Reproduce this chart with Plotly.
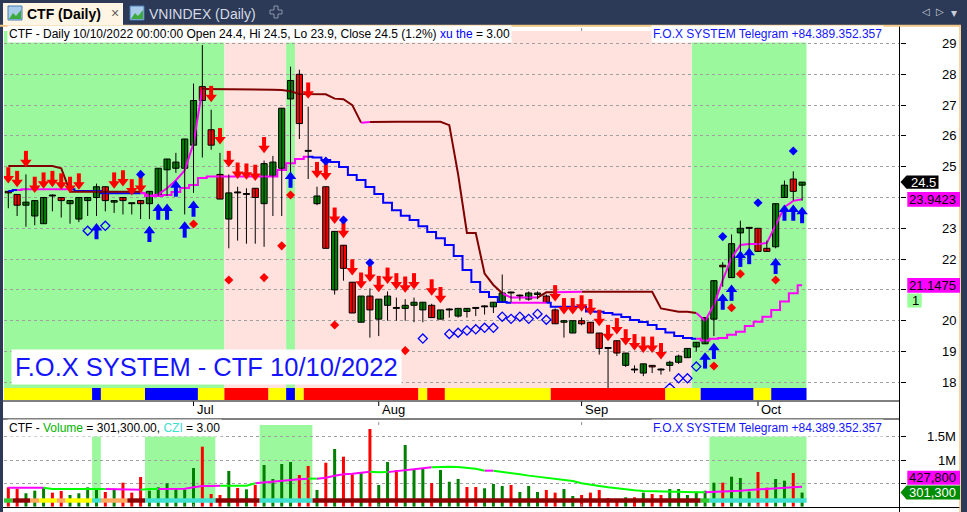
import plotly.graph_objects as go
import pandas as pd

W, H = 967, 512
PL, PR = 4, 900


def xp(px):
    return (px - PL) / (PR - PL)


def yp(py):
    return 1 - py / H


# ---------------- data ----------------
dates = [d.strftime("%Y-%m-%d") for d in pd.bdate_range("2022-06-02", "2022-10-10")
         if d.strftime("%Y-%m-%d") not in ("2022-09-01", "2022-09-02")]

month_dates = ["2022-07-01", "2022-08-01", "2022-09-05", "2022-10-03"]
month_labels = ["Jul", "Aug", "Sep", "Oct"]

opens = [24.2, 24.1, 23.75, 23.4, 23.15, 24.05, 24.0, 23.8, 23.3, 23.9,
         24.0, 24.35, 23.85, 24.0, 23.8, 23.9, 23.8, 24.05, 24.9, 24.95,
         24.95, 25.7, 27.6, 26.2, 24.75, 23.3, 24.15, 24.1, 24.3, 23.8,
         24.7, 24.95, 27.2, 28.0, 25.5, 23.8, 24.35, 21.0, 22.45, 21.25,
         19.95, 20.8, 20.05, 20.5, 20.4, 20.4, 20.5, 20.35, 20.5, 20.05,
         20.35, 20.15, 20.3, 20.4, 20.45, 20.45, 20.6, 20.9, 20.8, 20.7,
         20.85, 20.8, 20.35, 19.95, 19.6, 20.0, 19.95, 19.6, 19.1, 19.35,
         18.55, 18.4, 18.3, 18.55, 18.4, 18.55, 18.65, 18.8, 19.15, 19.25,
         20.05, 21.8, 21.4, 22.85, 23.0, 23.0, 22.35, 22.4, 24.0, 24.6,
         24.4]
highs = [24.2, 24.1, 24.75, 23.9, 24.0, 24.1, 24.0, 23.9, 24.0, 24.0,
         24.45, 24.35, 23.9, 24.0, 23.8, 23.9, 24.2, 24.95, 25.25, 25.45,
         25.9, 27.7, 28.95, 26.85, 25.45, 24.75, 24.35, 24.3, 24.3, 25.2,
         25.35, 26.9, 28.25, 28.15, 26.95, 24.35, 24.35, 22.9, 22.45, 21.25,
         20.8, 21.05, 20.7, 20.95, 20.75, 20.7, 20.75, 20.6, 20.55, 20.35,
         20.4, 20.4, 20.4, 20.4, 20.5, 20.6, 21.5, 20.95, 20.85, 20.95,
         20.95, 20.85, 20.4, 20.0, 20.0, 20.1, 19.95, 19.6, 19.1, 19.35,
         18.95, 18.55, 18.6, 18.55, 18.45, 18.7, 18.9, 19.1, 19.3, 20.1,
         21.3, 21.9, 22.8, 23.25, 23.0, 23.0, 22.6, 23.8, 24.55, 24.85,
         24.5]
lows = [23.65, 23.4, 23.05, 23.1, 23.15, 23.55, 23.35, 23.15, 23.2, 23.4,
        23.4, 23.55, 23.5, 23.45, 23.45, 23.3, 23.3, 24.05, 24.05, 24.8,
        23.45, 24.15, 25.3, 25.55, 23.95, 22.35, 22.6, 22.5, 22.5, 22.4,
        23.4, 23.4, 24.8, 25.9, 24.6, 23.75, 22.35, 20.85, 21.3, 20.25,
        19.95, 19.45, 19.5, 20.0, 20.0, 20.0, 19.95, 19.95, 20.1, 20.05,
        20.1, 20.1, 20.1, 20.15, 20.2, 20.25, 20.6, 20.6, 20.65, 20.65,
        20.7, 20.6, 19.9, 19.45, 19.6, 19.85, 19.6, 18.9, 17.8, 18.85,
        18.5, 18.3, 18.2, 18.3, 18.25, 18.35, 18.6, 18.8, 19.0, 19.25,
        19.5, 21.1, 21.4, 22.2, 22.2, 22.25, 22.25, 22.35, 24.0, 23.9,
        23.9]
closes = [24.15, 23.75, 23.85, 23.9, 24.0, 24.05, 23.9, 23.9, 24.0, 24.0,
          24.35, 23.9, 23.9, 23.9, 23.8, 23.8, 24.2, 24.95, 25.25, 25.15,
          25.9, 27.15, 27.15, 25.7, 23.95, 24.15, 24.15, 24.1, 24.0, 25.1,
          25.15, 26.9, 27.8, 26.4, 25.5, 24.05, 22.35, 22.9, 21.7, 20.25,
          20.8, 20.35, 20.7, 20.8, 20.4, 20.5, 20.6, 20.6, 20.1, 20.35,
          20.35, 20.4, 20.4, 20.4, 20.45, 20.6, 20.9, 20.9, 20.8, 20.9,
          20.9, 20.6, 19.9, 20.0, 20.0, 19.9, 19.6, 19.1, 19.1, 18.95,
          18.95, 18.4, 18.6, 18.5, 18.4, 18.65, 18.85, 19.1, 19.3, 20.1,
          21.3, 21.75, 22.5, 23.0, 23.0, 22.25, 22.25, 23.8, 24.4, 24.2,
          24.5]

# trailing line A (brown / magenta) and line B (blue / magenta)
line_a = [25.02, 25.02, 25.02, 25.02, 25.02, 25.02, 24.95,
          24.19, 24.19, 24.19, 24.19, 24.19, 24.19, 24.19, 24.19, 24.19,
          24.05, 24.1, 24.3, 24.56, 24.88, 25.76,
          27.52, 27.52, 27.52, 27.52, 27.52, 27.52, 27.52, 27.52,
          27.5, 27.49, 27.45, 27.36, 27.35, 27.35, 27.35,
          27.21, 27.19, 27.0, 26.43, 26.45,
          26.46, 26.46, 26.46, 26.46, 26.46, 26.46, 26.46, 26.46,
          26.35, 24.75, 22.85, 22.85, 21.53, 21.16, 20.89,
          20.75, 20.75, 20.75, 20.75,
          20.92, 20.92, 20.92, 20.92,
          20.94, 20.94, 20.94, 20.94, 20.94, 20.94, 20.94, 20.94, 20.94,
          20.4, 20.35, 20.29, 20.29, 20.25,
          20.0, 20.51, 21.32, 22.04, 22.46, 22.49, 22.49, 22.52, 23.11, 23.69, 23.89, 23.9423]
line_a_col = ("bbbbbbbbbbbbbbbb" "mmmmmmm" "bbbbbbbbbbbbbbbbbb" "m" "bbbbbbbbbbbbbbb"
              "mmmm" "bb" "mmm" "bbbbbbbbbbbbb" "mmmmmmmmmmmm")
line_b = [24.21, 24.24, 24.27, 24.27, 24.27, 24.27, 24.27, 24.27,
          24.21, 24.21, 24.21, 24.14, 24.14, 24.14, 24.14, 24.14,
          24.05, 24.05, 24.08, 24.18, 24.31, 24.41, 24.63,
          24.68, 24.68, 24.68, 24.68, 24.68, 24.68, 24.68, 24.68,
          24.89, 25.11, 25.25, 25.32,
          25.3, 25.22, 25.15, 24.99, 24.73, 24.57, 24.34, 24.11, 23.83, 23.59, 23.41,
          23.27, 23.07, 22.88, 22.68, 22.46, 22.1, 21.65, 21.26, 20.93, 20.77, 20.61,
          20.58, 20.58, 20.58, 20.58, 20.58,
          20.45, 20.45, 20.45, 20.45,
          20.3, 20.29, 20.25, 20.2, 20.12, 20.02, 19.96, 19.86, 19.73, 19.62, 19.5, 19.44, 19.41,
          19.36, 19.41, 19.44, 19.54, 19.64, 19.83, 19.97, 20.13, 20.35, 20.62, 20.89, 21.1475]
line_b_col = ("bb" "mmmmmm" "bbbbbbbb" "mmmmmmmmmmmmmmmmmmm" "bbbbbbbbbbbbbbbbbbbbbbb"
              "mmmm" "bbbbbbbbbbbbbbbbb" "mmmmmmmmmmmm")

# signal markers (bar index, price)
red_arrow_bars = [0, 1, 2, 3, 4, 5, 6, 7, 8, 12, 13, 14, 15, 23, 24, 25, 26, 27, 28, 29,
                  34, 35, 36, 37, 38, 39, 40, 41, 42, 43, 44, 45, 46, 48, 49,
                  62, 63, 64, 65, 66, 67, 68, 69, 70, 71, 72, 73, 74]
red_arrow_tip = [24.47, 24.35, 25.0, 24.16, 24.3, 24.35, 24.27, 24.16, 24.27, 24.3, 24.37, 24.08, 24.16,
                 27.11, 25.74, 25.0, 24.62, 24.59, 24.55, 25.45,
                 27.22, 24.64, 24.57, 23.16, 22.69, 21.48, 21.05, 21.27, 20.94, 21.21, 21.03, 20.92, 21.03,
                 20.83, 20.58,
                 20.64, 20.22, 20.22, 20.31, 20.19, 19.84, 19.35, 19.57, 19.21, 19.05, 18.97, 18.97, 18.76]
blue_arrow_bars = [10, 16, 17, 18, 19, 20, 21, 32, 79, 80, 81, 82, 83, 84, 87, 88, 89, 90]
blue_arrow_tip = [23.16, 23.07, 23.79, 23.79, 24.54, 23.21, 23.89, 24.83, 18.96, 19.27,
                  20.87, 21.16, 22.26, 22.35, 22.03, 23.76, 23.76, 23.68]
red_dot_bars = [21, 25, 29, 31, 32, 37, 45, 80, 82, 83, 87]
red_dot_y = [23.14, 21.32, 21.4, 22.43, 24.08, 19.86, 19.03, 18.53, 20.42, 21.52, 21.32]
blue_dot_bars = [15, 36, 38, 41, 81, 85, 89]
blue_dot_y = [24.75, 25.18, 23.27, 21.88, 22.73, 23.83, 25.51]
hollow_bars = [9, 11, 47, 50, 51, 52, 53, 54, 55, 56, 57, 58, 59, 60, 61, 75, 76, 77, 78]
hollow_y = [22.92, 23.08, 19.42, 19.57, 19.61, 19.68, 19.72, 19.77, 19.77, 20.13, 20.06,
            20.13, 20.06, 20.22, 20.03, 17.82, 18.13, 18.13, 18.51]

# background zones (G green / P pink) and bottom status strip (Y / B / R)
bg_zone = ("GGGGGGGGGGGGGGGGGGGGGGGGG" "PPPPPPP" "G"
           "PPPPPPPPPPPPPPPPPPPPPPPPPPPPPPPPPPPPPPPPPPPPP" "GGGGGGGGGGGGG")
strip = ("YYYYYYYYYY" "B" "YYYYY" "BBBBBB" "YYY" "RRRRR" "YY" "B" "Y" "RRRRRRRRRRRRR" "Y" "RR"
         "YYYYYYYYYYYY" "RRRRRRRRRRRRR" "YYYY" "BBBBBB" "YY" "BBBB")

# volume pane
volumes = [414000, 384000, 286000, 342000, 414000, 299000, 334000, 249000, 286000, 414000,
           393000, 313000, 384000, 513000, 299000, 635000, 342000, 414000, 500000, 393000,
           371000, 828000, 1286000, 270000, 249000, 764000, 399000, 371000, 464000, 893000,
           592000, 914000, 957000, 678000, 871000, 356000, 942000, 1236000, 1071000, 693000,
           721000, 1665000, 464000, 957000, 785000, 1322000, 807000, 807000, 506000, 785000,
           534000, 592000, 421000, 421000, 393000, 485000, 443000, 464000, 313000, 443000,
           313000, 356000, 300000, 378000, 228000, 249000, 300000, 356000, 185000, 142000,
           200000, 200000, 300000, 270000, 249000, 378000, 378000, 249000, 321000, 342000,
           513000, 513000, 642000, 614000, 321000, 742000, 407000, 592000, 557000, 721000,
           301300]
vol_dir = ("rrgggrrggg" "grgrrrgggg" "ggrrrgrgrg" "gggrrgrgrr" "grggrgggrg"
           "ggrrgggrgg" "grrggrrrrr" "grgrrggggg" "grgggrrggrg")
vol_ma = [407000, 407000, 407000, 407000, 407000,
          380000, 378000, 378000, 378000, 378000, 378000, 378000,
          370000, 365000, 356000, 360000,
          378000, 378000, 380000, 383000, 385000, 414000, 443000, 443000, 445000,
          450000, 450000, 450000, 500000,
          520000, 535000, 550000, 571000, 585000, 600000,
          600000, 621000, 664000, 693000, 705000, 721000, 750000,
          735000, 740000, 764000, 785000, 807000, 825000, 843000,
          857000, 857000, 850000, 835000, 814000,
          771000, 771000, 750000, 728000, 693000, 665000, 642000, 615000, 592000, 570000,
          550000, 500000, 464000, 440000, 414000, 390000, 371000, 350000, 335000, 328000,
          321000, 314000, 307000, 307000, 307000,
          307000, 313000, 320000, 328000, 340000, 356000, 365000, 378000, 390000, 399000,
          415000, 427800]
vol_ma_col = ("mmmmm" "ggggggg" "mmmm" "gg" "mmmmmmm" "gggg" "mmmmmm" "g" "mmmmmm" "gg"
              "mmmmm" "gggggg" "m" "gggggggggggggggggggggggg" "mmmmmmmmmmm")
vol_zone = ("WWWWWWWWWW" "G" "WWWWW" "GGGGGGGG" "WWWWW" "GGGGGG"
            "WWWWWWWWWWWWWWWWWWWWWWWWWWWWWWWWWWWWWWWWWWWWW" "GGGGGGGGGGG")
vol_strip = ("g" "dd" "o" "yy" "o" "yyy" "t" "ooo" "dd" "tttttttt" "ddddd" "tttttt"
             "dddddddddddddddddddddddddddddddddddddddddddd" "g" "ttttttttttt")

# ---------------- geometry ----------------
P_TOP_PX, P_BOT_PX = 27, 388
P_LO, P_HI = 17.815, 29.536
PPX = (P_HI - P_LO) / (P_BOT_PX - P_TOP_PX)

V_TOP_PX, V_BOT_PX = 419, 508
V_LO, V_HI = -30000, 1880000
VPX = (V_HI - V_LO) / (V_BOT_PX - V_TOP_PX)


def price_px(v):
    return P_BOT_PX - (v - P_LO) / PPX


def vol_px(v):
    return V_BOT_PX - (v - V_LO) / VPX


X_RANGE = [-0.4875, 101.1]

GREEN_BG = "#9CF89C"
PINK_BG = "#FFE2DE"
NAVY = "#2C3A57"
FONT = "Arial, Liberation Sans, sans-serif"

fig = go.Figure()


def runs_of(flags):
    out = []
    s = 0
    for k in range(1, len(flags) + 1):
        if k == len(flags) or flags[k] != flags[s]:
            out.append((s, k - 1, flags[s]))
            s = k
    return out


def colored_pieces(vals, flags):
    res = {}
    for a, b, f in runs_of(flags):
        s = max(a - 1, 0)
        xs, ys = res.setdefault(f, ([], []))
        xs.extend(dates[s:b + 1] + [None])
        ys.extend(vals[s:b + 1] + [None])
    return res


# ---- line B (blue/magenta, stepped) ----
for f, (xs, ys) in colored_pieces(line_b, line_b_col).items():
    fig.add_trace(go.Scatter(x=xs, y=ys, mode="lines", line_shape="hvh",
                             line=dict(color="#0000FF" if f == "b" else "#FF00FF", width=2),
                             xaxis="x", yaxis="y", hoverinfo="skip"))
# ---- line A (brown/magenta) ----
for f, (xs, ys) in colored_pieces(line_a, line_a_col).items():
    fig.add_trace(go.Scatter(x=xs, y=ys, mode="lines",
                             line=dict(color="#800000" if f == "b" else "#FF00FF", width=2),
                             xaxis="x", yaxis="y", hoverinfo="skip"))

# ---- candles ----
wx, wy = [], []
for d, h, l in zip(dates, highs, lows):
    wx += [d, d, None]
    wy += [l, h, None]
fig.add_trace(go.Scatter(x=wx, y=wy, mode="lines", line=dict(color="black", width=1),
                         xaxis="x", yaxis="y", hoverinfo="skip"))
body_col = ["#008000" if c > o else ("#FF0000" if c < o else "black") for o, c in zip(opens, closes)]
fig.add_trace(go.Bar(x=dates, y=[max(abs(c - o), 0.03) for o, c in zip(opens, closes)],
                     base=[min(o, c) for o, c in zip(opens, closes)], width=0.7,
                     marker=dict(color=body_col, line=dict(color="black", width=1)),
                     xaxis="x", yaxis="y", hoverinfo="skip"))

# ---- arrows ----
rx = [dates[i] for i in red_arrow_bars]
fig.add_trace(go.Scatter(x=rx, y=[t + 10.6 * PPX for t in red_arrow_tip], mode="markers",
                         marker=dict(symbol="line-ns", size=7.5, line=dict(color="#FF0000", width=4)),
                         xaxis="x", yaxis="y", hoverinfo="skip"))
fig.add_trace(go.Scatter(x=rx, y=[t + 4.5 * PPX for t in red_arrow_tip], mode="markers",
                         marker=dict(symbol="triangle-down", size=10, color="#FF0000", line=dict(width=0)),
                         xaxis="x", yaxis="y", hoverinfo="skip"))
bx = [dates[i] for i in blue_arrow_bars]
fig.add_trace(go.Scatter(x=bx, y=[t - 10.6 * PPX for t in blue_arrow_tip], mode="markers",
                         marker=dict(symbol="line-ns", size=7.5, line=dict(color="#0000FF", width=4)),
                         xaxis="x", yaxis="y", hoverinfo="skip"))
fig.add_trace(go.Scatter(x=bx, y=[t - 4.5 * PPX for t in blue_arrow_tip], mode="markers",
                         marker=dict(symbol="triangle-up", size=10, color="#0000FF", line=dict(width=0)),
                         xaxis="x", yaxis="y", hoverinfo="skip"))
fig.add_trace(go.Scatter(x=[dates[i] for i in red_dot_bars], y=red_dot_y, mode="markers",
                         marker=dict(symbol="diamond", size=7, color="#FF0000"),
                         xaxis="x", yaxis="y", hoverinfo="skip"))
fig.add_trace(go.Scatter(x=[dates[i] for i in blue_dot_bars], y=blue_dot_y, mode="markers",
                         marker=dict(symbol="diamond", size=7, color="#0000FF"),
                         xaxis="x", yaxis="y", hoverinfo="skip"))
fig.add_trace(go.Scatter(x=[dates[i] for i in hollow_bars], y=hollow_y, mode="markers",
                         marker=dict(symbol="diamond-open", size=7, color="#0000FF", line=dict(width=1.3)),
                         xaxis="x", yaxis="y", hoverinfo="skip"))

# ---- volume ----
fig.add_trace(go.Bar(x=dates, y=volumes, width=0.34,
                     marker=dict(color=["#008000" if c == "g" else "#FF0000" for c in vol_dir],
                                 line=dict(width=0)),
                     xaxis="x2", yaxis="y2", hoverinfo="skip"))
for f, (xs, ys) in colored_pieces(vol_ma, vol_ma_col).items():
    fig.add_trace(go.Scatter(x=xs, y=ys, mode="lines",
                             line=dict(color="#00FF00" if f == "g" else "#FF00FF", width=2),
                             xaxis="x2", yaxis="y2", hoverinfo="skip"))

# ---------------- shapes ----------------
shapes = []
BG = {"G": GREEN_BG, "P": PINK_BG, "W": "white"}
for a, b, f in runs_of(bg_zone):
    shapes.append(dict(type="rect", xref="x", yref="paper", x0=a - 0.5, x1=b + 0.5,
                       y0=yp(388), y1=yp(31), fillcolor=BG[f], line=dict(width=0), layer="between"))
SC = {"Y": "#FFFF00", "B": "#0000FF", "R": "#FF0000"}
for a, b, f in runs_of(strip):
    shapes.append(dict(type="rect", xref="x", yref="paper", x0=a - 0.5, x1=b + 0.5,
                       y0=yp(400), y1=yp(388), fillcolor=SC[f], line=dict(width=0), layer="between"))
for a, b, f in runs_of(vol_zone):
    shapes.append(dict(type="rect", xref="x2", yref="paper", x0=a - 0.5, x1=b + 0.5,
                       y0=yp(502), y1=yp(425), fillcolor=BG[f], line=dict(width=0), layer="between"))
VSC = {"g": "#2ECC2E", "d": "#8B0000", "o": "#FFA860", "y": "#FFFF00", "t": "#40E0D0"}
for a, b, f in runs_of(vol_strip):
    shapes.append(dict(type="rect", xref="x2", yref="paper", x0=a - 0.5, x1=b + 0.5,
                       y0=yp(502.7), y1=yp(498.3), fillcolor=VSC[f], line=dict(width=0), layer="above"))


def hline(py, x0, x1, color="black", width=1):
    shapes.append(dict(type="line", xref="paper", yref="paper", x0=xp(x0), x1=xp(x1),
                       y0=yp(py), y1=yp(py), line=dict(color=color, width=width), layer="above"))


def vline(px, y0, y1, color="black", width=1):
    shapes.append(dict(type="line", xref="paper", yref="paper", x0=xp(px), x1=xp(px),
                       y0=yp(y0), y1=yp(y1), line=dict(color=color, width=width), layer="above"))


def rect(x0, y0, x1, y1, fill, line_color=None, lw=0):
    shapes.append(dict(type="rect", xref="paper", yref="paper", x0=xp(x0), x1=xp(x1),
                       y0=yp(y1), y1=yp(y0), fillcolor=fill,
                       line=dict(width=lw, color=line_color or fill), layer="above"))


# axis band lines
hline(401, 3, 900)
hline(419, 3, 900)
hline(507.5, 3, 960)
vline(899.5, 26, 512)
for md in month_dates:
    k = dates.index(md)
    shapes.append(dict(type="line", xref="x", yref="paper", x0=k, x1=k, y0=yp(401.5), y1=yp(406),
                       line=dict(color="black", width=1), layer="above"))
    # short dotted month marks that peek out above/below the coloured backgrounds
    for y0, y1 in ((27, 31), (419.5, 425), (503, 507)):
        shapes.append(dict(type="line", xref="x", yref="paper", x0=k, x1=k, y0=yp(y1), y1=yp(y0),
                           line=dict(color="#909090", width=1, dash="dot"), layer="above"))

# window chrome
rect(-5, -2, 975, 25, NAVY)
rect(-5, 25, 3, 520, NAVY)
rect(961, -2, 975, 520, NAVY)
hline(25.8, 0, 961, color="#F2C685", width=2)
vline(960, 25, 512, color="#F2C685", width=1.5)
rect(3, 3, 123, 25, "#FFF5E4")
# tab icons
for ix in (8, 130):
    rect(ix, 6, ix + 14, 20, "#A9CBEA", "#4A7DB5", 1)
    shapes.append(dict(type="path", xref="paper", yref="paper", layer="above",
                       path=("M {} {} L {} {} L {} {} L {} {} L {} {} Z".format(
                           xp(ix + 1), yp(19), xp(ix + 5), yp(13), xp(ix + 8), yp(16),
                           xp(ix + 13), yp(10), xp(ix + 13), yp(19))),
                       fillcolor="#3DAA3D", line=dict(width=0)))
# plus icon
shapes.append(dict(type="path", xref="paper", yref="paper", layer="above",
                   path=("M {a} {t} L {b} {t} L {b} {m1} L {r} {m1} L {r} {m2} L {b} {m2} L {b} {bt} "
                         "L {a} {bt} L {a} {m2} L {l} {m2} L {l} {m1} L {a} {m1} Z").format(
                       a=xp(274), b=xp(278), l=xp(270), r=xp(282),
                       t=yp(6), m1=yp(10), m2=yp(14), bt=yp(18)),
                   fillcolor="rgba(0,0,0,0)", line=dict(color="#8C96AA", width=1)))

# value boxes on the price scale
cy = price_px(closes[-1])
shapes.append(dict(type="path", xref="paper", yref="paper", layer="above",
                   path="M {} {} L {} {} L {} {} L {} {} L {} {} Z".format(
                       xp(900.5), yp(cy), xp(906.5), yp(cy - 6.7), xp(938.5), yp(cy - 6.7),
                       xp(938.5), yp(cy + 6.7), xp(906.5), yp(cy + 6.7)),
                   fillcolor="black", line=dict(width=0)))
ca = price_px(line_a[-1])
rect(907.3, ca - 7.4, 960, ca + 7.4, "#FF00FF")
cb = price_px(line_b[-1])
rect(907.3, cb - 7.4, 960, cb + 7.4, "#FF00FF")
rect(907.3, cb + 8.2, 921.7, cb + 22.2, "#99FF99")
cv = vol_px(volumes[-1])
shapes.append(dict(type="path", xref="paper", yref="paper", layer="above",
                   path="M {} {} L {} {} L {} {} L {} {} L {} {} Z".format(
                       xp(900.5), yp(cv), xp(906.5), yp(cv - 7), xp(960), yp(cv - 7),
                       xp(960), yp(cv + 7), xp(906.5), yp(cv + 7)),
                   fillcolor="#008C00", line=dict(width=0)))
cm = cv - 14.8
rect(907.3, cm - 7, 960, cm + 7, "#FF00FF")

# ---------------- annotations ----------------
ann = []


def text(x, y, s, size=12, color="black", xanchor="left", bg=None, xref="paper", yref="paper",
         bold=False, xshift=0, pad=0):
    d = dict(x=x, y=y, xref=xref, yref=yref, text=("<b>%s</b>" % s) if bold else s,
             showarrow=False, xanchor=xanchor, yanchor="middle", xshift=xshift,
             font=dict(family=FONT, size=size, color=color), borderpad=pad)
    if bg:
        d["bgcolor"] = bg
    ann.append(d)


# price scale labels (labels hidden under the value boxes are skipped, as in the reference)
boxes = [(cy - 6.7, cy + 6.7), (ca - 7.4, ca + 7.4), (cb - 7.4, cb + 22.2)]
for v in range(18, 30):
    py = price_px(v)
    if any(lo - 5 < py < hi + 5 for lo, hi in boxes):
        continue
    text(xp(956.5), v, str(v), size=13, xanchor="right", yref="y")
text(xp(923), yp(cy), "%.1f" % closes[-1], size=13, color="white", xanchor="center")
text(xp(957), yp(ca), "%.4f" % line_a[-1], size=13, xanchor="right")
text(xp(957), yp(cb), "%.4f" % line_b[-1], size=13, xanchor="right")
text(xp(911), yp(cb + 15.2), "1", size=13, xanchor="left")
# volume scale labels
text(xp(956.5), 1500000, "1.5M", size=13, xanchor="right", yref="y2")
text(xp(956.5), 1000000, "1M", size=13, xanchor="right", yref="y2")
text(xp(957), yp(cm), "{:,}".format(int(vol_ma[-1])), size=13, xanchor="right")
text(xp(957), yp(cv), "{:,}".format(int(volumes[-1])), size=13, color="white", xanchor="right")
# month labels
for md, lab in zip(month_dates, month_labels):
    text(md, yp(409.5), lab, size=13, xref="x", xshift=2)

# pane titles
text(xp(7), yp(34), "CTF - Daily 10/10/2022 00:00:00 Open 24.4, Hi 24.5, Lo 23.9, Close 24.5 (1.2%) "
     "<span style='color:#0000FF'>xu the</span> = 3.00", size=12, bg="white", pad=1)
text(xp(884), yp(34), "F.O.X SYSTEM Telegram +84.389.352.357", size=12, color="#1414FF",
     xanchor="right", bg="white", pad=1)
text(xp(7), yp(427.5), "CTF - <span style='color:#00B400'>Volume</span> = 301,300.00, "
     "<span style='color:#40E0D0'>CZI</span> = 3.00", size=12, bg="white", pad=1)
text(xp(884), yp(427.5), "F.O.X SYSTEM Telegram +84.389.352.357", size=12, color="#1414FF",
     xanchor="right", bg="white", pad=1)
# big label
text(xp(11), yp(366.5), "F.O.X SYSTEM - CTF 10/10/2022", size=25.5, color="#1414FF", bg="white", pad=3)

# tab bar
text(xp(26), yp(13.5), "CTF (Daily)", size=14, bold=True)
text(xp(110), yp(12.5), "×", size=14, color="#606060")
text(xp(148), yp(13.5), "VNINDEX (Daily)", size=14, color="#D5DAE6")
text(xp(926), yp(11.5), "◁", size=10, color="#C8CEDA", xanchor="center")
text(xp(940), yp(11.5), "▷", size=10, color="#C8CEDA", xanchor="center")
text(xp(954), yp(12.5), "▾", size=12, color="#C8CEDA", xanchor="center")

# ---------------- layout ----------------
ygrid = dict(showgrid=True, gridcolor="#A0A0A0", griddash="dot", gridwidth=1)
fig.update_layout(
    width=W, height=H, margin=dict(l=PL, r=W - PR, t=0, b=0),
    paper_bgcolor="white", plot_bgcolor="white",
    showlegend=False, hovermode=False, barmode="overlay",
    xaxis=dict(type="category", categoryorder="array", categoryarray=dates, range=X_RANGE,
               anchor="y", showgrid=False, showticklabels=False,
               ticks="", showline=False, zeroline=False, fixedrange=True),
    xaxis2=dict(type="category", categoryorder="array", categoryarray=dates, range=X_RANGE,
                matches="x", anchor="y2", showgrid=False,
                showticklabels=False, ticks="", showline=False, zeroline=False),
    yaxis=dict(domain=[yp(P_BOT_PX), yp(P_TOP_PX)], range=[P_LO, P_HI], side="right", anchor="x",
               tickmode="array", tickvals=list(range(18, 30)), ticks="outside", ticklen=5,
               tickcolor="black", showticklabels=False, showline=False, zeroline=False, **ygrid),
    yaxis2=dict(domain=[yp(V_BOT_PX), yp(V_TOP_PX)], range=[V_LO, V_HI], side="right", anchor="x2",
                tickmode="array", tickvals=[500000, 1000000, 1500000], ticks="outside", ticklen=5,
                tickcolor="black", showticklabels=False, showline=False, zeroline=False, **ygrid),
    shapes=shapes, annotations=ann,
)

fig.write_html("out.html", config={"displayModeBar": False},
               post_script="document.body.style.margin='0px';"
                           "document.body.style.overflow='hidden';")
